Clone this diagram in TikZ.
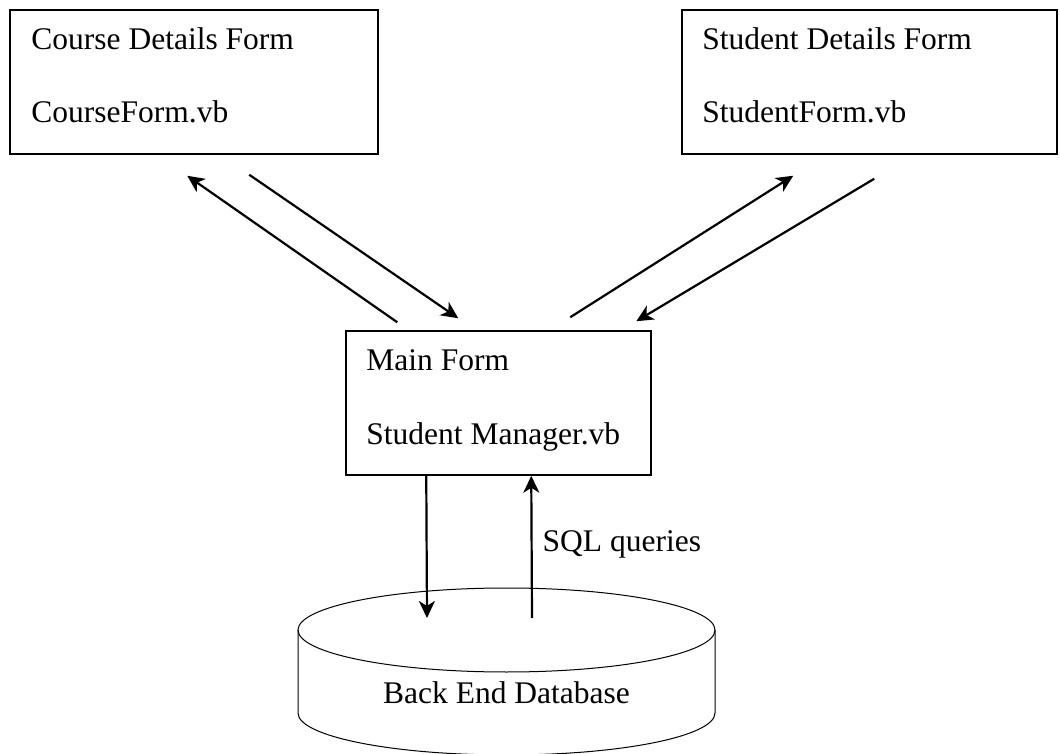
\documentclass[tikz,border=0pt]{standalone}
\usepackage{fontspec}
\setmainfont{Liberation Serif}
\usetikzlibrary{positioning,calc,arrows.meta}

\begin{document}
\begin{tikzpicture}[x=1pt, y=1pt,
    formbox/.style={draw, line width=1.5pt, inner sep=0pt},
    formtext/.style={anchor=base west, inner sep=0pt, font=\fontsize{31.5}{38}\selectfont},
    flow/.style={line width=2.2pt, -{Stealth[length=17pt, width=16pt, inset=5pt]}}]
    \useasboundingbox (0,0) rectangle (1060,753);

    % the three forms
    \node[formbox, minimum width=368pt, minimum height=144pt] (course) at (194,671) {};
    \node[formbox, minimum width=375pt, minimum height=144pt] (student) at (869.5,671) {};
    \node[formbox, minimum width=305pt, minimum height=144pt] (main) at (498.5,350) {};

    \node[formtext] (courseName) at ([shift={(22,-40)}]course.north west) {Course Details Form};
    \node[formtext] (courseFile) at ([shift={(22,-113)}]course.north west) {CourseForm.vb};
    \node[formtext] (studentName) at ([shift={(21,-40)}]student.north west) {Student Details Form};
    \node[formtext] (studentFile) at ([shift={(21,-113)}]student.north west) {StudentForm.vb};
    \node[formtext] (mainName) at ([shift={(21,-40)}]main.north west) {Main Form};
    \node[formtext] (mainFile) at ([shift={(21,-114)}]main.north west) {Student Manager.vb};

    % database
    \node[formtext, anchor=base] (db) at (506.5,50) {Back End Database};
    \draw[line width=1pt] (506.5,123) ellipse [x radius=208.5, y radius=42];
    \draw[line width=1pt] (298,123) -- (298,40) arc[start angle=180, end angle=360, x radius=208.5, y radius=42] -- (715,123);

    \draw[flow] ([shift={(52,8)}]main.north west) -- ([shift={(178,-21)}]course.south west);
    \draw[flow] ([shift={(240,-20)}]course.south west) -- ([shift={(113,12)}]main.north west);
    \draw[flow] ([shift={(225,13)}]main.north west) -- ([shift={(112,-21)}]student.south west);
    \draw[flow] ([shift={(193,-24)}]student.south west) -- ([shift={(291,9)}]main.north west);

    \draw[flow] ([xshift=81]main.south west) -- ([shift={(-79.5,85)}]db.base);
    \draw[flow] ([shift={(25.5,85)}]db.base) -- node[formtext, anchor=west, pos=0.52, xshift=10pt] (sql) {SQL queries} ([xshift=186]main.south west);
\end{tikzpicture}
\end{document}
